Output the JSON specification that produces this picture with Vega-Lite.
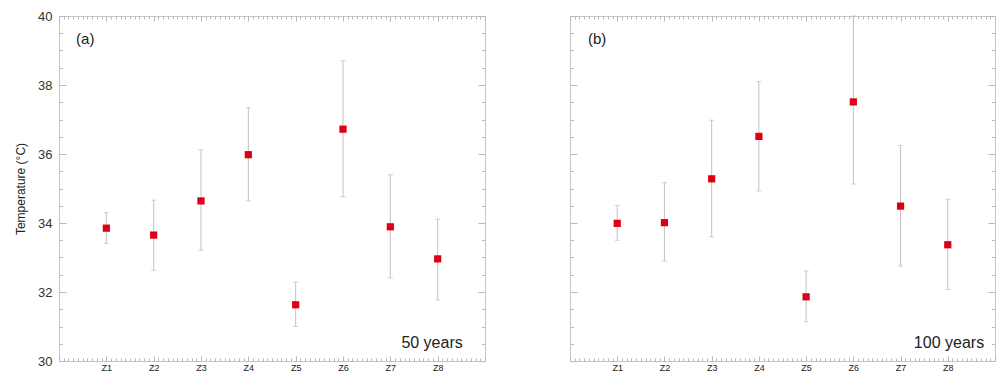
{
  "$schema": "https://vega.github.io/schema/vega-lite/v6.json",
  "padding": {"left": 14, "top": 9, "right": 4, "bottom": 0},
  "background": "white",
  "spacing": 83,
  "config": {
    "view": {"stroke": "#c6c6c6", "strokeWidth": 1},
    "font": "Liberation Sans"
  },
  "datasets": {
    "a": [
      {"zone": "Z1", "idx": 1, "mean": 33.85, "lo": 33.41, "hi": 34.30},
      {"zone": "Z2", "idx": 2, "mean": 33.65, "lo": 32.63, "hi": 34.66},
      {"zone": "Z3", "idx": 3, "mean": 34.64, "lo": 33.21, "hi": 36.12},
      {"zone": "Z4", "idx": 4, "mean": 35.98, "lo": 34.64, "hi": 37.34},
      {"zone": "Z5", "idx": 5, "mean": 31.63, "lo": 31.00, "hi": 32.29},
      {"zone": "Z6", "idx": 6, "mean": 36.72, "lo": 34.76, "hi": 38.70},
      {"zone": "Z7", "idx": 7, "mean": 33.89, "lo": 32.41, "hi": 35.40},
      {"zone": "Z8", "idx": 8, "mean": 32.96, "lo": 31.77, "hi": 34.11}
    ],
    "b": [
      {"zone": "Z1", "idx": 1, "mean": 33.99, "lo": 33.50, "hi": 34.51},
      {"zone": "Z2", "idx": 2, "mean": 34.01, "lo": 32.90, "hi": 35.17},
      {"zone": "Z3", "idx": 3, "mean": 35.28, "lo": 33.60, "hi": 36.98},
      {"zone": "Z4", "idx": 4, "mean": 36.51, "lo": 34.93, "hi": 38.10},
      {"zone": "Z5", "idx": 5, "mean": 31.86, "lo": 31.14, "hi": 32.61},
      {"zone": "Z6", "idx": 6, "mean": 37.51, "lo": 35.13, "hi": 40.00},
      {"zone": "Z7", "idx": 7, "mean": 34.49, "lo": 32.75, "hi": 36.25},
      {"zone": "Z8", "idx": 8, "mean": 33.37, "lo": 32.07, "hi": 34.69}
    ]
  },
  "hconcat": [
    {
      "width": 426,
      "height": 345,
      "data": {"name": "a"},
      "layer": [
        {
          "mark": {"type": "rule", "color": "#cbbfbf", "strokeWidth": 1},
          "encoding": {
            "x": {"field": "idx", "type": "quantitative",
              "scale": {"domain": [0, 9], "nice": false, "zero": false},
              "axis": {"orient": "bottom", "tickCount": 90, "grid": false, "domain": false, "title": null,
                "labelExpr": "datum.value % 1 == 0 && datum.value > 0 && datum.value < 9 ? 'Z' + datum.value : ''",
                "labelOverlap": false, "labelBound": false, "labelFlush": false,
                "tickSize": {"condition": {"test": "datum.value % 1 == 0", "value": -5}, "value": -3},
                "tickColor": "#b8b8b8", "labelFontSize": 9, "labelColor": "#222", "labelPadding": 7}},
            "y": {"field": "lo", "type": "quantitative",
              "scale": {"domain": [30, 40], "nice": false, "zero": false},
              "axis": {"orient": "left", "tickCount": 20, "grid": false, "domain": false,
                "title": "Temperature (°C)", "titleFontSize": 12, "titleFontWeight": "normal", "titleColor": "#222", "titlePadding": 10,
                "labelExpr": "datum.value % 2 == 0 ? '' + datum.value : ''",
                "labelOverlap": false, "labelBound": false, "labelFlush": false,
                "tickSize": {"condition": {"test": "datum.value % 2 == 0", "value": -7}, "value": -3.5},
                "tickColor": "#b8b8b8", "labelFontSize": 13, "labelColor": "#333", "labelPadding": 14}},
            "y2": {"field": "hi"}
          }
        },
        {
          "mark": {"type": "tick", "orient": "horizontal", "color": "#bdbdbd", "size": 5, "thickness": 1},
          "encoding": {
            "x": {"field": "idx", "type": "quantitative", "axis": null},
            "y": {"field": "lo", "type": "quantitative", "axis": null}
          }
        },
        {
          "mark": {"type": "tick", "orient": "horizontal", "color": "#bdbdbd", "size": 5, "thickness": 1},
          "encoding": {
            "x": {"field": "idx", "type": "quantitative", "axis": null},
            "y": {"field": "hi", "type": "quantitative", "axis": null}
          }
        },
        {
          "mark": {"type": "square", "color": "#dc0014", "size": 52, "opacity": 1},
          "encoding": {
            "x": {"field": "idx", "type": "quantitative",
              "axis": {"orient": "top", "tickCount": 90, "grid": false, "domain": false, "title": null, "labels": false,
                "tickSize": {"condition": {"test": "datum.value % 1 == 0", "value": -5}, "value": -3},
                "tickColor": "#b8b8b8"}},
            "y": {"field": "mean", "type": "quantitative",
              "axis": {"orient": "right", "tickCount": 20, "grid": false, "domain": false, "title": null, "labels": false,
                "tickSize": {"condition": {"test": "datum.value % 2 == 0", "value": -7}, "value": -3.5},
                "tickColor": "#b8b8b8"}}
          }
        },
        {
          "data": {"values": [{"note": "(a)"}]},
          "mark": {"type": "text", "align": "left", "baseline": "middle", "fontSize": 15, "color": "#222"},
          "encoding": {
            "x": {"datum": 0.36, "type": "quantitative", "axis": null},
            "y": {"datum": 39.33, "type": "quantitative", "axis": null},
            "text": {"field": "note"}
          }
        },
        {
          "data": {"values": [{"note": "50 years"}]},
          "mark": {"type": "text", "align": "right", "baseline": "middle", "fontSize": 16, "color": "#222"},
          "encoding": {
            "x": {"datum": 8.53, "type": "quantitative", "axis": null},
            "y": {"datum": 30.52, "type": "quantitative", "axis": null},
            "text": {"field": "note"}
          }
        }
      ],
      "resolve": {"axis": {"x": "independent", "y": "independent"}}
    },
    {
      "width": 425,
      "height": 345,
      "data": {"name": "b"},
      "layer": [
        {
          "mark": {"type": "rule", "color": "#cbbfbf", "strokeWidth": 1},
          "encoding": {
            "x": {"field": "idx", "type": "quantitative",
              "scale": {"domain": [0, 9], "nice": false, "zero": false},
              "axis": {"orient": "bottom", "tickCount": 90, "grid": false, "domain": false, "title": null,
                "labelExpr": "datum.value % 1 == 0 && datum.value > 0 && datum.value < 9 ? 'Z' + datum.value : ''",
                "labelOverlap": false, "labelBound": false, "labelFlush": false,
                "tickSize": {"condition": {"test": "datum.value % 1 == 0", "value": -5}, "value": -3},
                "tickColor": "#b8b8b8", "labelFontSize": 9, "labelColor": "#222", "labelPadding": 7}},
            "y": {"field": "lo", "type": "quantitative",
              "scale": {"domain": [30, 40], "nice": false, "zero": false},
              "axis": {"orient": "left", "tickCount": 20, "grid": false, "domain": false, "title": null, "labels": false,
                "tickSize": {"condition": {"test": "datum.value % 2 == 0", "value": -7}, "value": -3.5},
                "tickColor": "#b8b8b8"}},
            "y2": {"field": "hi"}
          }
        },
        {
          "mark": {"type": "tick", "orient": "horizontal", "color": "#bdbdbd", "size": 5, "thickness": 1},
          "encoding": {
            "x": {"field": "idx", "type": "quantitative", "axis": null},
            "y": {"field": "lo", "type": "quantitative", "axis": null}
          }
        },
        {
          "mark": {"type": "tick", "orient": "horizontal", "color": "#bdbdbd", "size": 5, "thickness": 1},
          "encoding": {
            "x": {"field": "idx", "type": "quantitative", "axis": null},
            "y": {"field": "hi", "type": "quantitative", "axis": null}
          }
        },
        {
          "mark": {"type": "square", "color": "#dc0014", "size": 52, "opacity": 1},
          "encoding": {
            "x": {"field": "idx", "type": "quantitative",
              "axis": {"orient": "top", "tickCount": 90, "grid": false, "domain": false, "title": null, "labels": false,
                "tickSize": {"condition": {"test": "datum.value % 1 == 0", "value": -5}, "value": -3},
                "tickColor": "#b8b8b8"}},
            "y": {"field": "mean", "type": "quantitative",
              "axis": {"orient": "right", "tickCount": 20, "grid": false, "domain": false, "title": null, "labels": false,
                "tickSize": {"condition": {"test": "datum.value % 2 == 0", "value": -7}, "value": -3.5},
                "tickColor": "#b8b8b8"}}
          }
        },
        {
          "data": {"values": [{"note": "(b)"}]},
          "mark": {"type": "text", "align": "left", "baseline": "middle", "fontSize": 15, "color": "#222"},
          "encoding": {
            "x": {"datum": 0.38, "type": "quantitative", "axis": null},
            "y": {"datum": 39.33, "type": "quantitative", "axis": null},
            "text": {"field": "note"}
          }
        },
        {
          "data": {"values": [{"note": "100 years"}]},
          "mark": {"type": "text", "align": "right", "baseline": "middle", "fontSize": 16, "color": "#222"},
          "encoding": {
            "x": {"datum": 8.77, "type": "quantitative", "axis": null},
            "y": {"datum": 30.52, "type": "quantitative", "axis": null},
            "text": {"field": "note"}
          }
        }
      ],
      "resolve": {"axis": {"x": "independent", "y": "independent"}}
    }
  ]
}
